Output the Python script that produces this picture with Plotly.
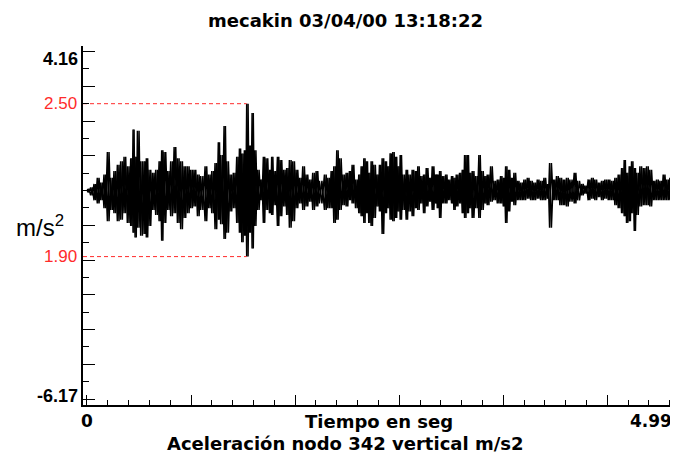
import plotly.graph_objects as go

# ---------------- data ----------------
# time of each reading (s), upper and lower envelope of the acceleration (m/s^2)
t = [0.003, 0.031, 0.060, 0.088, 0.117, 0.145, 0.174, 0.202, 0.230, 0.259,
     0.287, 0.316, 0.344, 0.373, 0.393, 0.410, 0.430, 0.458, 0.487, 0.506,
     0.529, 0.558, 0.586, 0.615, 0.637, 0.657, 0.686, 0.714, 0.743, 0.771,
     0.799, 0.828, 0.856, 0.885, 0.913, 0.942, 0.970,
     1.007, 1.035, 1.064, 1.092, 1.120, 1.140, 1.169, 1.192, 1.220, 1.248,
     1.277, 1.300, 1.320, 1.342, 1.362, 1.385, 1.408, 1.428, 1.453, 1.482,
     1.504, 1.527, 1.556, 1.575, 1.595, 1.624, 1.647, 1.675, 1.703, 1.726,
     1.755, 1.783, 1.812, 1.840, 1.868, 1.897, 1.925, 1.954, 1.982,
     2.025, 2.054, 2.082, 2.105, 2.130, 2.153, 2.182, 2.210, 2.238, 2.261,
     2.290, 2.318, 2.338, 2.361, 2.381, 2.403, 2.423, 2.446, 2.472, 2.494,
     2.517, 2.543, 2.565, 2.585, 2.608, 2.631, 2.651, 2.671, 2.693, 2.722,
     2.745, 2.773, 2.799, 2.821, 2.844, 2.870, 2.893, 2.921, 2.944, 2.972,
     2.987, 3.007, 3.029, 3.058, 3.081, 3.109, 3.129, 3.149, 3.177, 3.200,
     3.220, 3.243, 3.263, 3.285, 3.314, 3.342, 3.365, 3.393, 3.413, 3.442,
     3.470, 3.499, 3.527, 3.550, 3.570, 3.592, 3.618, 3.641, 3.669, 3.698,
     3.726, 3.755, 3.783, 3.811, 3.840, 3.868, 3.897, 3.925, 3.945,
     3.976, 4.004, 4.033, 4.061, 4.089, 4.118, 4.155, 4.183, 4.217, 4.246,
     4.274, 4.303, 4.331, 4.360, 4.388, 4.416, 4.445, 4.473, 4.502, 4.530,
     4.559, 4.581, 4.601, 4.624, 4.644, 4.667, 4.687, 4.715, 4.744, 4.772,
     4.800, 4.829, 4.857, 4.886, 4.914, 4.943, 4.971, 4.990]

upper = [0.05, 0.09, 0.19, 0.37, 0.23, 0.46, 1.11, 0.37, 0.56, 0.74,
         0.84, 0.97, 0.70, 0.93, 1.76, 0.97, 1.72, 0.84, 0.84, 0.93,
         0.60, 0.51, 0.60, 0.84, 1.16, 1.11, 0.56, 0.84, 1.25, 0.93,
         0.84, 0.70, 0.70, 0.60, 0.60, 0.46, 0.42,
         0.70, 0.46, 0.56, 0.79, 1.39, 1.02, 1.86, 0.84, 0.46, 0.51,
         0.97, 1.21, 1.07, 1.16, 2.50, 1.30, 2.23, 1.16, 0.60, 0.32,
         0.97, 0.93, 0.60, 0.97, 0.56, 0.97, 0.88, 0.60, 0.65, 0.88,
         0.84, 0.60, 0.37, 0.70, 0.46, 0.32, 0.51, 0.56, 0.28,
         0.46, 0.37, 0.56, 0.70, 1.16, 0.93, 0.46, 0.51, 0.56, 0.74,
         0.32, 0.46, 0.70, 0.93, 0.84, 0.51, 0.84, 0.74, 0.46, 0.74,
         0.93, 0.84, 0.70, 1.07, 1.11, 0.97, 0.70, 1.02, 0.46, 0.60,
         0.46, 0.60, 0.56, 0.70, 0.42, 0.46, 0.65, 0.37, 0.70, 0.46,
         0.46, 0.56, 0.42, 0.46, 0.32, 0.42, 0.37, 0.46, 0.51, 0.60,
         1.02, 1.02, 0.51, 0.56, 0.42, 1.02, 0.56, 0.42, 0.46, 0.70,
         0.28, 0.32, 0.42, 0.37, 0.70, 0.60, 0.37, 0.51, 0.28, 0.23,
         0.32, 0.37, 0.28, 0.23, 0.32, 0.28, 0.37, 0.19, 0.79,
         0.32, 0.42, 0.37, 0.32, 0.37, 0.32, 0.51, 0.28, 0.19, 0.14,
         0.32, 0.37, 0.32, 0.23, 0.28, 0.32, 0.32, 0.28, 0.37, 0.46,
         0.65, 0.88, 0.51, 0.70, 0.84, 0.65, 0.51, 0.70, 0.65, 0.70,
         0.60, 0.28, 0.32, 0.28, 0.46, 0.32, 0.37, 0.23]

lower = [-0.05, -0.14, -0.28, -0.37, -0.28, -0.51, -0.88, -0.56, -0.65, -0.88,
         -0.84, -0.65, -0.93, -1.02, -1.21, -1.35, -1.07, -1.30, -1.25, -1.35,
         -1.02, -0.56, -0.70, -0.88, -1.44, -0.93, -0.56, -0.74, -0.65, -0.93,
         -1.11, -0.79, -0.65, -0.51, -0.46, -0.74, -0.56,
         -0.88, -0.51, -0.65, -1.11, -0.84, -0.97, -1.39, -1.21, -0.60, -0.51,
         -0.93, -1.21, -1.49, -1.30, -1.90, -1.21, -1.67, -1.02, -0.56, -0.28,
         -0.93, -0.56, -0.65, -0.70, -0.42, -1.02, -0.74, -0.46, -0.70, -1.07,
         -0.88, -0.51, -0.37, -0.56, -0.46, -0.32, -0.56, -0.46, -0.37,
         -0.56, -0.51, -0.51, -0.93, -0.84, -0.56, -0.42, -0.46, -0.28, -0.37,
         -0.51, -0.65, -0.74, -0.93, -0.65, -0.93, -1.02, -0.79, -0.46, -0.60,
         -1.25, -0.65, -0.51, -0.84, -0.88, -0.79, -0.60, -0.84, -0.56, -0.84,
         -0.60, -0.74, -0.51, -0.56, -0.37, -0.65, -0.46, -0.32, -0.56, -0.37,
         -0.51, -0.79, -0.37, -0.37, -0.28, -0.37, -0.56, -0.46, -0.37, -0.65,
         -0.79, -0.65, -0.51, -0.79, -0.51, -0.79, -0.56, -0.37, -0.42, -0.32,
         -0.28, -0.37, -0.37, -0.46, -0.93, -0.60, -0.32, -0.42, -0.28, -0.28,
         -0.28, -0.23, -0.28, -0.28, -0.23, -0.28, -0.28, -0.23, -1.07,
         -0.28, -0.28, -0.42, -0.42, -0.46, -0.32, -0.37, -0.28, -0.14, -0.09,
         -0.28, -0.23, -0.28, -0.19, -0.28, -0.23, -0.28, -0.28, -0.42, -0.51,
         -0.65, -0.74, -0.93, -0.88, -0.65, -1.16, -0.70, -0.46, -0.42, -0.42,
         -0.46, -0.28, -0.28, -0.28, -0.28, -0.28, -0.28, -0.23]

axis_max_label = "4.16"
axis_min_label = "-6.17"
x_end_label = "4.99"
x_start_label = "0"
title_text = "mecakin 03/04/00 13:18:22"
x_title = "Tiempo en seg"
caption = "Aceleración nodo 342 vertical m/s2"
y_title = "m/s<sup>2</sup>"

# ---------------- derived ----------------
y_range = [float(axis_min_label), float(axis_max_label)]
x_range = [-0.034, 5.04]

# two counter-phase zig-zags between the envelopes -> dense trace band
xa, ya, xb, yb = [], [], [], []
for i in range(len(t)):
    nxt = t[i + 1] if i + 1 < len(t) else t[i] + 0.028
    h = (nxt - t[i]) / 2.0
    xa += [t[i], t[i] + h]
    ya += [upper[i], lower[i]]
    xb += [t[i], t[i] + h]
    yb += [lower[i], upper[i]]

imax = max(range(len(upper)), key=lambda k: upper[k])
peak_t = t[imax]
peak_v = upper[imax]
trough_v = min(lower)

RED = "#ff2b2b"

fig = go.Figure()
for xx, yy in ((xa, ya), (xb, yb)):
    fig.add_trace(go.Scatter(x=xx, y=yy, mode="lines",
                             line=dict(color="black", width=1.5),
                             hoverinfo="skip", showlegend=False))
fig.add_trace(go.Scatter(x=[x_range[0], peak_t], y=[peak_v, peak_v], mode="lines",
                         line=dict(color=RED, width=1, dash="4px,3px"),
                         hoverinfo="skip", showlegend=False))
fig.add_trace(go.Scatter(x=[x_range[0], peak_t], y=[trough_v, trough_v], mode="lines",
                         line=dict(color=RED, width=1, dash="4px,3px"),
                         hoverinfo="skip", showlegend=False))

LAB = dict(family="Liberation Sans, Arial, sans-serif", size=18, color="black")
REDLAB = dict(family="Liberation Sans, Arial, sans-serif", size=17, color=RED)
BOLDTXT = dict(family="DejaVu Sans, Verdana, sans-serif", size=18, color="black")
NUMTXT = dict(family="DejaVu Sans, Verdana, sans-serif", size=17, color="black")

annotations = [
    # y labels
    dict(xref="paper", yref="y", x=0, y=y_range[1], text="<b>" + axis_max_label + "</b>",
         xanchor="right", yanchor="middle", xshift=-3, yshift=-13, showarrow=False, font=LAB),
    dict(xref="paper", yref="y", x=0, y=y_range[0], text="<b>" + axis_min_label + "</b>",
         xanchor="right", yanchor="middle", xshift=-3, yshift=9, showarrow=False, font=LAB),
    dict(xref="paper", yref="y", x=0, y=peak_v, text=f"{peak_v:.2f}",
         xanchor="right", yanchor="middle", xshift=-4, showarrow=False, font=REDLAB),
    dict(xref="paper", yref="y", x=0, y=trough_v, text=f"{abs(trough_v):.2f}",
         xanchor="right", yanchor="middle", xshift=-4, showarrow=False, font=REDLAB),
    dict(xref="paper", yref="paper", x=-0.072, y=0.50, text=y_title,
         xanchor="center", yanchor="middle", showarrow=False,
         font=dict(family="Liberation Sans, Arial, sans-serif", size=24, color="black")),
    # x labels
    dict(xref="x", yref="paper", x=0, y=-0.045, text="<b>" + x_start_label + "</b>",
         xanchor="center", yanchor="middle", showarrow=False, font=NUMTXT),
    dict(xref="x", yref="paper", x=float(x_end_label), y=-0.045, text="<b>" + x_end_label + "</b>",
         xanchor="right", yanchor="middle", xshift=2, showarrow=False, font=NUMTXT),
    dict(xref="paper", yref="paper", x=0.497, y=-0.045, text="<b>" + x_title + "</b>",
         xanchor="center", yanchor="middle", showarrow=False, font=BOLDTXT),
    dict(xref="paper", yref="paper", x=0.440, y=-0.106, text="<b>" + caption + "</b>",
         xanchor="center", yanchor="middle", showarrow=False, font=BOLDTXT),
    # title
    dict(xref="paper", yref="paper", x=0.442, y=1.072, text="<b>" + title_text + "</b>",
         xanchor="center", yanchor="middle", showarrow=False,
         font=dict(family="DejaVu Sans, Verdana, sans-serif", size=18, color="black")),
]

# the page body adds an 8px offset, so the figure is 8px smaller than the window
fig.update_layout(
    width=670, height=452,
    margin=dict(l=75, r=0, t=38, b=55),
    paper_bgcolor="white", plot_bgcolor="white",
    annotations=annotations,
    showlegend=False,
    xaxis=dict(range=x_range, showline=True, linecolor="black", linewidth=2,
               ticks="inside", tick0=0, dtick=0.8875, ticklen=10, tickwidth=1.2,
               tickcolor="black", showticklabels=False, showgrid=False, zeroline=False,
               minor=dict(ticks="inside", tick0=0, dtick=0.1775, ticklen=5,
                          tickwidth=1, tickcolor="black", showgrid=False)),
    yaxis=dict(range=y_range, showline=True, linecolor="black", linewidth=2,
               ticks="inside", tick0=0, dtick=1, ticklen=12, tickwidth=1.2,
               tickcolor="black", showticklabels=False, showgrid=False, zeroline=False,
               minor=dict(ticks="inside", tick0=0, dtick=0.5, ticklen=6,
                          tickwidth=1, tickcolor="black", showgrid=False)),
)

fig.write_html("out.html")
